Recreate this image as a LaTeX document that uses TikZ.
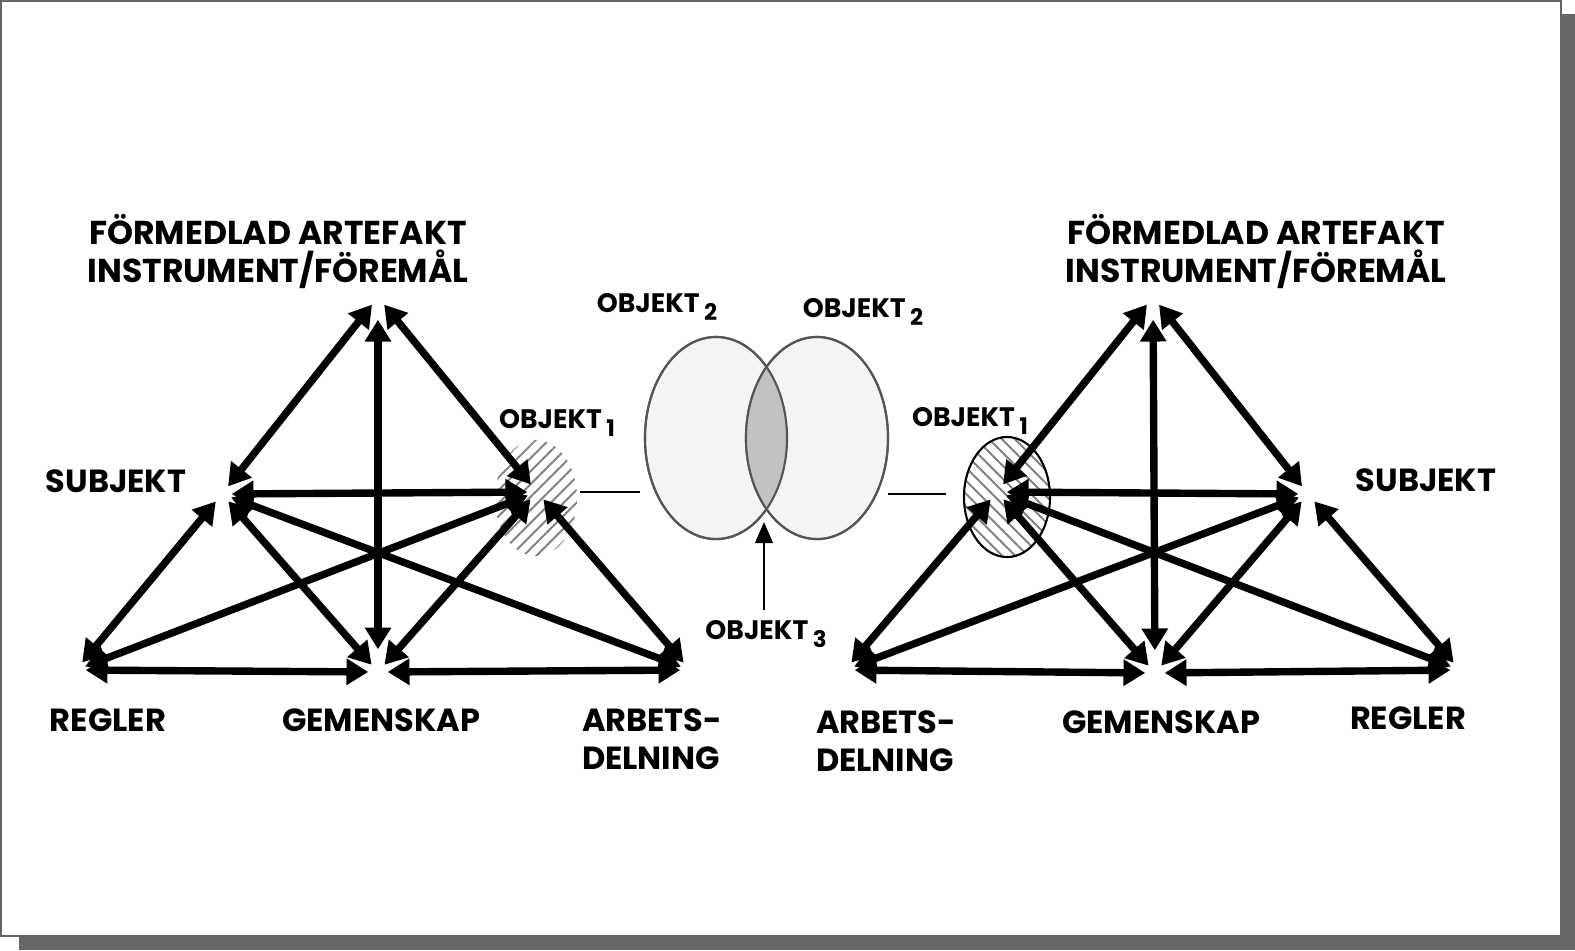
\documentclass[tikz,border=0pt]{standalone}
\usepackage{fontspec}
\setmainfont{Poppins}
\usetikzlibrary{arrows.meta,patterns.meta}
\definecolor{shadowgray}{HTML}{666666}
\definecolor{ringgray}{HTML}{555555}
\definecolor{lightfill}{HTML}{F4F4F4}
\definecolor{lensfill}{HTML}{C2C2C2}
\newcommand\objnr[1]{\,\raisebox{-0.55ex}{\fontsize{6.5}{7}\selectfont #1}}
\tikzset{
  vtx/.style={circle,inner sep=0pt,minimum size=0.18cm},
  dbl/.style={{Triangle[length=6.2pt,width=7.2pt]}-{Triangle[length=6.2pt,width=7.2pt]},line width=2.1pt},
  lbl/.style={font=\bfseries\fontsize{9.1}{10.8}\selectfont,inner sep=0pt},
  toplbl/.style={font=\bfseries\fontsize{9.4}{10.8}\selectfont,inner sep=0pt,align=center},
  objlbl/.style={font=\bfseries\fontsize{7.6}{9}\selectfont,inner sep=0pt},
  linkline/.style={line width=0.7pt},
  ring/.style={draw=ringgray,line width=0.6pt}
}
\begin{document}
\begin{tikzpicture}[x=0.01cm,y=-0.01cm]
\useasboundingbox (0,0) rectangle (1575,950);
% frame with shadow
\fill[shadowgray] (19,14) rectangle (1575,950);
\filldraw[fill=white,draw=shadowgray,line width=0.6pt] (1,1) rectangle (1561,936);

% objekt 2 and the shared objekt 3
\filldraw[ring,fill=lightfill] (716,438) ellipse [x radius=0.71cm,y radius=1.01cm];
\filldraw[ring,fill=lightfill] (817,438) ellipse [x radius=0.71cm,y radius=1.01cm];
\begin{scope}
\clip (716,438) ellipse [x radius=0.71cm,y radius=1.01cm];
\fill[lensfill] (817,438) ellipse [x radius=0.71cm,y radius=1.01cm];
\end{scope}
\draw[ring] (716,438) ellipse [x radius=0.71cm,y radius=1.01cm];
\draw[ring] (817,438) ellipse [x radius=0.71cm,y radius=1.01cm];

% objekt 1 areas
\fill[pattern={Lines[angle=45,distance=2.6pt,line width=0.55pt]},pattern color=gray]
  (536,498) ellipse [x radius=0.41cm,y radius=0.58cm];
\filldraw[pattern={Lines[angle=-45,distance=2.6pt,line width=0.55pt]},pattern color=gray,draw=black,line width=0.6pt]
  (1007,497) ellipse [x radius=0.43cm,y radius=0.6cm];

% corners
\node[vtx] (lT) at (378,297) {};
\node[vtx] (lS) at (222,494) {};
\node[vtx] (lO) at (537,492) {};
\node[vtx] (lR) at (76,670) {};
\node[vtx] (lG) at (378,672) {};
\node[vtx] (lA) at (690,670) {};
\node[vtx] (rT) at (1153,297) {};
\node[vtx] (rO) at (997,492) {};
\node[vtx] (rS) at (1308,494) {};
\node[vtx] (rA) at (845,670) {};
\node[vtx] (rG) at (1155,673) {};
\node[vtx] (rR) at (1460,670) {};

\foreach \side in {l,r}{
  \foreach \a/\b in {T/S,T/O,S/O,S/R,S/G,S/A,O/R,O/G,O/A,R/G,G/A}
    \draw[dbl] (\side\a) -- (\side\b);
  \draw[dbl,shorten <=0.13cm,shorten >=0.13cm] (\side T) -- (\side G);
}

% links to the middle
\coordinate (la) at (580,492);
\coordinate (lb) at (640,492);
\coordinate (ra) at (888,494);
\coordinate (rb) at (946,494);
\draw[linkline] (la) -- (lb);
\draw[linkline] (ra) -- (rb);

% labels
\node[toplbl] (lTl) at (278,251) {FÖRMEDLAD ARTEFAKT\\INSTRUMENT/FÖREMÅL};
\node[lbl] (lSl) at (116,481) {SUBJEKT};
\node[lbl] (lRl) at (108,720) {REGLER};
\node[lbl] (lGl) at (381,720) {GEMENSKAP};
\node[lbl,align=left] (lAl) at (652,739) {ARBETS-\\DELNING};
\node[objlbl] (lOl) at (557,423) {OBJEKT\objnr{1}};

\node[toplbl] (rTl) at (1256,251) {FÖRMEDLAD ARTEFAKT\\INSTRUMENT/FÖREMÅL};
\node[lbl] (rSl) at (1426,480) {SUBJEKT};
\node[lbl] (rRl) at (1408,718) {REGLER};
\node[lbl] (rGl) at (1161,722) {GEMENSKAP};
\node[lbl,align=left] (rAl) at (886,741) {ARBETS-\\DELNING};
\node[objlbl] (rOl) at (970,421) {OBJEKT\objnr{1}};

\node[objlbl] (o2l) at (657,307) {OBJEKT\objnr{2}};
\node[objlbl] (o2r) at (863,312) {OBJEKT\objnr{2}};
\node[objlbl] (o3) at (766,634) {OBJEKT\objnr{3}};
\coordinate (lensbot) at (764,522);
\draw[line width=0.7pt,-{Triangle[length=6pt,width=5pt]},shorten <=0.1cm] (o3.north -| lensbot) -- (lensbot);
\end{tikzpicture}
\end{document}
